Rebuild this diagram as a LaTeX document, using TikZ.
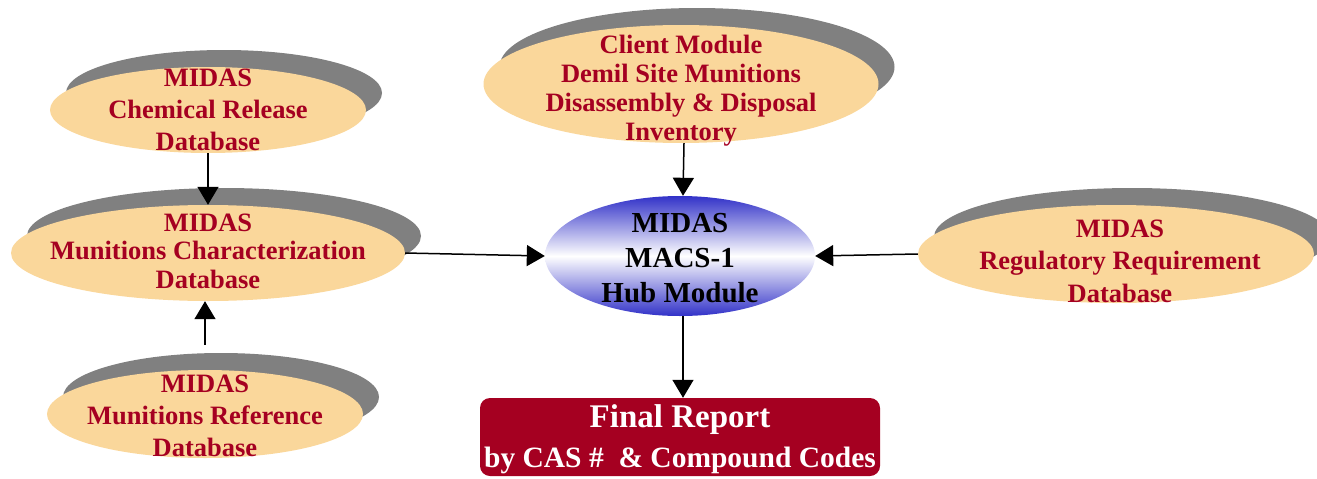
\documentclass[tikz,border=0pt]{standalone}
\usepackage{fontspec}
\setmainfont{Liberation Serif}
\usetikzlibrary{positioning,arrows.meta,shapes.geometric,shadows}

\definecolor{midasred}{RGB}{165,0,33}
\definecolor{dbfill}{RGB}{250,215,155}
\definecolor{shadowgray}{RGB}{128,128,128}
\definecolor{hubblue}{RGB}{50,50,200}

\tikzset{
  dbshape/.style={ellipse, inner sep=0pt, fill=dbfill,
    drop shadow={shadow xshift=16pt, shadow yshift=17pt, fill=shadowgray, opacity=1}},
  dbtext/.style={align=center, text=midasred, inner sep=0pt,
    font=\fontsize{26.5}{30}\bfseries\selectfont},
  flow/.style={line width=1.5pt, -{Triangle[width=21pt,length=18pt]}}
}

\begin{document}
\begin{tikzpicture}[x=1pt,y=-1pt]
          \useasboundingbox (0,0) rectangle (1317,479);

          % data bases
          \node[dbshape, minimum width=316pt, minimum height=86pt] (chem) at (208,110) {};
          \node[dbshape, minimum width=394pt, minimum height=96pt] (char) at (208,253) {};
          \node[dbshape, minimum width=316pt, minimum height=88pt] (ref) at (205,414) {};
          \node[dbshape, minimum width=395pt, minimum height=118pt] (client) at (681,84) {};
          \node[dbshape, minimum width=396pt, minimum height=98pt] (reg) at (1116,254) {};

          \node[dbtext, font=\fontsize{26.5}{32}\bfseries\selectfont] (chemtxt) at (chem) {MIDAS\\Chemical Release\\Database};
          \node[dbtext, font=\fontsize{26.5}{28.5}\bfseries\selectfont] (chartxt) at (208,251) {MIDAS\\Munitions Characterization\\Database};
          \node[dbtext, font=\fontsize{26.5}{32}\bfseries\selectfont] (reftxt) at (205,416) {MIDAS\\Munitions Reference\\Database};
          \node[dbtext, font=\fontsize{26.5}{29}\bfseries\selectfont] (clienttxt) at (681,91) {Client Module\\Demil Site Munitions\\Disassembly \& Disposal\\Inventory};
          \node[dbtext, font=\fontsize{26.5}{32.5}\bfseries\selectfont] (regtxt) at (1120,261) {MIDAS\\Regulatory Requirement\\Database};

          % hub and report
          \node[ellipse, inner sep=0pt, minimum width=270pt, minimum height=120pt,
                top color=hubblue, bottom color=hubblue, middle color=white] (hub) at (680,256) {};
          \node[align=center, inner sep=0pt, font=\fontsize{29}{35}\bfseries\selectfont] (hubtxt) at (680,258) {MIDAS\\MACS-1\\Hub Module};

          \node[fill=midasred, rounded corners=10pt, minimum width=400pt, minimum height=78pt] (report) at (680,437) {};
          \node[align=center, inner sep=0pt, text=white, font=\fontsize{29.5}{40}\bfseries\selectfont] (reporttxt) at (680,439)
                {{\fontsize{33}{40}\selectfont Final Report}\\
                 by CAS \#\ \ \& Compound Codes};

          \draw[flow] (chem.south) -- (char.north);
          \draw[flow] ([yshift=25pt]ref.north) -- (ref.north |- char.south);
          \draw[flow] (char.east) -- (hub.west);
          \draw[flow] (reg.west) -- (hub.east);
          \draw[flow] ([xshift=3pt]client.south) -- ([xshift=3pt]hub.north);
          \draw[flow] ([xshift=3pt]hub.south) -- ([xshift=3pt]report.north);
        \end{tikzpicture}
\end{document}
